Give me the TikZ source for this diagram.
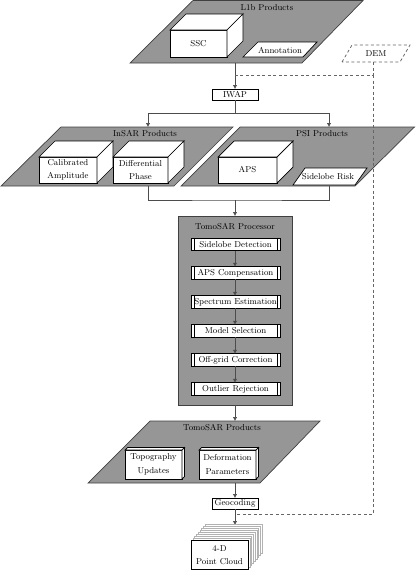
\documentclass[tikz,border=0pt]{standalone}
\usetikzlibrary{arrows.meta}
\definecolor{pgray}{RGB}{150,150,150}
\newcommand{\drawcube}[2]{%
  \draw[cubeface] (#1.north west) -- ++(#2,-#2) -- ([xshift=#2pt,yshift=#2pt]#1.north east) -- (#1.north east) -- cycle;
  \draw[cubeface] (#1.north east) -- ++(#2,-#2) -- ([xshift=#2pt,yshift=#2pt]#1.south east) -- (#1.south east) -- cycle;
}
\begin{document}
\begin{tikzpicture}[x=1pt,y=-1pt,
  every node/.style={font=\fontsize{8.6}{13.5}\selectfont, inner sep=0pt, outer sep=0pt},
  pgon/.style={fill=pgray, draw=black!75, line width=0.7pt},
  wpgon/.style={fill=white, draw=black, line width=0.7pt},
  frontbox/.style={draw=black, fill=white, line width=0.7pt, align=center},
  cubeface/.style={draw=black, fill=white, line width=0.7pt},
  smallbox/.style={draw=black, fill=white, line width=0.7pt, minimum width=46pt, minimum height=11pt},
  stepbox/.style={draw=black, fill=white, line width=0.7pt, minimum width=89pt, minimum height=12.5pt,
    path picture={\draw[line width=0.7pt] ([xshift=3pt]path picture bounding box.north west) -- ([xshift=3pt]path picture bounding box.south west);
                  \draw[line width=0.7pt] ([xshift=-3pt]path picture bounding box.north east) -- ([xshift=-3pt]path picture bounding box.south east);}},
  conn/.style={draw=black!70, line width=0.7pt},
  arr/.style={conn, -{Latex[length=4pt,width=4.5pt]}},
  demline/.style={draw=black!60, line width=0.75pt, dash pattern=on 3pt off 2.5pt},
  stack/.style={draw=black!30, fill=white, line width=0.4pt}]
\useasboundingbox (0,0) rectangle (415,570);

% ---------- L1b products ----------
\draw[pgon] (130,63) -- (193,0.5) -- (363,0.5) -- (302,63) -- cycle;
\node (l1bt) at (267,8) {L1b Products};
\coordinate (l1bS) at (235,63);
\node[frontbox, minimum width=57pt, minimum height=27pt] (ssc) at (198.5,43.5) {SSC};
\drawcube{ssc}{16}
\draw[wpgon] (243,57) -- (258,42) -- (317,42) -- (303,57) -- cycle;
\node (annot) at (280,50) {Annotation};

% ---------- DEM ----------
\draw[demline] (342,62) -- (352,45) -- (410,45) -- (400,62) -- cycle;
\node (dem) at (376,54) {DEM};
\coordinate (demS) at (373,62);
\coordinate (demA) at (373,75);
\coordinate (demJ) at (235,75);
\coordinate (demB) at (373,514);
\coordinate (demK) at (235,514);

% ---------- IWAP ----------
\node[smallbox] (iwap) at (235,94.5) {IWAP};
\draw[arr] (l1bS) -- (iwap.north);
\draw[demline] (demS) -- (demA) -- (demJ);

% ---------- InSAR / PSI products ----------
\draw[pgon] (1,186) -- (61,127) -- (233,127) -- (174,186) -- cycle;
\node (insart) at (145,133.5) {InSAR Products};
\draw[pgon] (181,186) -- (240,127) -- (414.5,127) -- (355,186) -- cycle;
\node (psit) at (322,133.5) {PSI Products};
\coordinate (insarN) at (148,127);
\coordinate (psiN) at (329,127);
\coordinate (insarS) at (148,186);
\coordinate (psiS) at (329,186);
\coordinate (splitT) at (235,113);
\coordinate (joinB) at (235,200);

\node[frontbox, minimum width=58pt, minimum height=26pt] (cal) at (68,170) {Calibrated\\Amplitude};
\drawcube{cal}{16}
\node[frontbox, minimum width=55pt, minimum height=26pt] (diff) at (140.5,170) {Differential\\Phase};
\drawcube{diff}{16}
\node[frontbox, minimum width=59pt, minimum height=26pt] (aps) at (247.5,170) {APS};
\drawcube{aps}{16}
\draw[wpgon] (293,185) -- (305,168) -- (367,168) -- (355,185) -- cycle;
\node (slrisk) at (328,177) {Sidelobe Risk};

\draw[conn] (iwap.south) -- (splitT);
\draw[arr] (splitT) -| (insarN);
\draw[arr] (splitT) -| (psiN);
\draw[conn] (insarS) |- (joinB) -| (psiS);

% ---------- TomoSAR processor ----------
\node[draw=black!75, fill=pgray, line width=0.7pt, minimum width=114pt, minimum height=189pt] (proc) at (235,310.5) {};
\node (proct) at (235,227) {TomoSAR Processor};
\draw[arr] (joinB) -- (proc.north);
\node[stepbox] (s1) at (235.5,244.5) {Sidelobe Detection};
\node[stepbox] (s2) at (235.5,273) {APS Compensation};
\node[stepbox] (s3) at (235.5,302) {Spectrum Estimation};
\node[stepbox] (s4) at (235.5,331) {Model Selection};
\node[stepbox] (s5) at (235.5,360) {Off-grid Correction};
\node[stepbox] (s6) at (235.5,389) {Outlier Rejection};
\foreach \a/\b in {s1/s2,s2/s3,s3/s4,s4/s5,s5/s6}
  \draw[arr] ([xshift=-0.5pt]\a.south) -- ([xshift=-0.5pt]\b.north);

% ---------- TomoSAR products ----------
\draw[pgon] (88,483) -- (150,421) -- (320,421) -- (260,483) -- cycle;
\node (tpt) at (222,427.5) {TomoSAR Products};
\coordinate (tpN) at (235,421);
\coordinate (tpS) at (235,483);
\draw[arr] (proc.south) -- (tpN);
\node[frontbox, minimum width=57pt, minimum height=29pt] (topo) at (153.5,464.5) {Topography\\Updates};
\drawcube{topo}{2.5}
\node[frontbox, minimum width=57pt, minimum height=29pt] (defo) at (227.5,464.5) {Deformation\\Parameters};
\drawcube{defo}{2.5}

% ---------- Geocoding ----------
\node[smallbox] (geo) at (235,503.5) {Geocoding};
\draw[arr] (tpS) -- (geo.north);
\coordinate (pcN) at (235,525);
\draw[arr] (geo.south) -- (pcN);
\draw[demline] (demA) -- (demB) -- (demK);

% ---------- Point cloud ----------
\foreach \i in {8,...,1}
  \draw[stack] (191+\i*1.75, 569.5-\i*2) rectangle ++(57,-29);
\node[frontbox, minimum width=57pt, minimum height=29pt] (pc) at (219.5,555) {4-D\\Point Cloud};
\end{tikzpicture}
\end{document}
